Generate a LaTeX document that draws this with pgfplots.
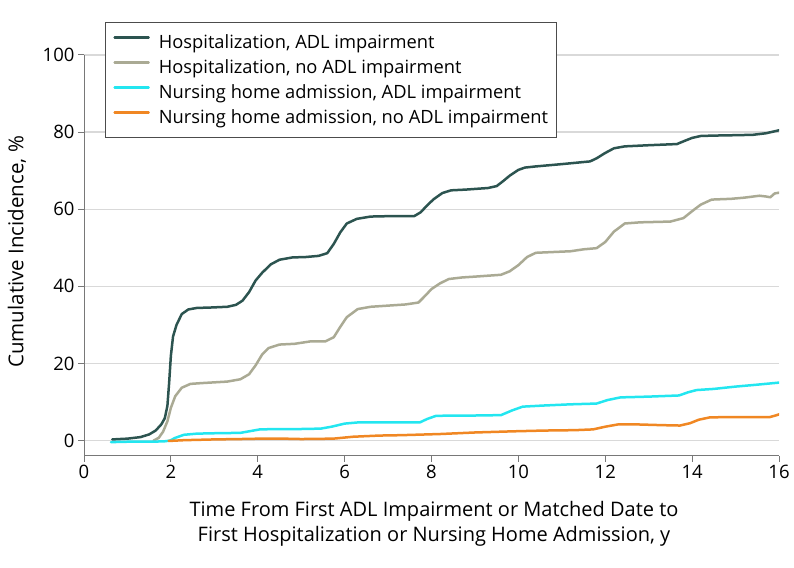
\documentclass[border=0pt]{standalone}
\usepackage{fontspec}
\setmainfont{Open Sans}
\usepackage{pgfplots}
\pgfplotsset{compat=1.18}

\definecolor{hadl}{RGB}{44,84,80}
\definecolor{hnoadl}{RGB}{170,170,148}
\definecolor{nhadl}{RGB}{35,230,240}
\definecolor{nhnoadl}{RGB}{240,135,35}
\definecolor{gridgray}{RGB}{217,217,217}
\definecolor{axisgray}{RGB}{120,120,120}

\begin{document}
\begin{tikzpicture}
\useasboundingbox (0,0) rectangle (794pt,567pt);
\begin{axis}[
    at={(84pt,111pt)}, anchor=south west,
    scale only axis,
    width=695pt, height=401pt,
    xmin=0, xmax=16, ymin=-4, ymax=100,
    xtick={0,2,...,16}, ytick={0,20,...,100},
    axis x line*=bottom, axis y line*=left,
    axis line style={axisgray, line width=1pt},
    tick style={axisgray, line width=1pt},
    tick align=outside, major tick length=6pt,
    ymajorgrids, grid style={gridgray, line width=1.4pt},
    /pgf/number format/assume math mode=true,
    tick label style={font=\fontsize{18.5}{20}\selectfont},
    xlabel={Time From First ADL Impairment or Matched Date to\\First Hospitalization or Nursing Home Admission, y},
    every axis x label/.style={at={(axis description cs:0.5036,-0.1696)}, anchor=center,
        font=\fontsize{20}{25}\selectfont, align=center},
    ylabel={Cumulative Incidence, \%},
    every axis y label/.style={at={(axis description cs:-0.0964,0.509)}, rotate=90, anchor=center,
        font=\fontsize{20.5}{24}\selectfont},
    legend style={at={(axis description cs:0.0302,1.0823)}, anchor=north west,
        draw=black!70, line width=0.8pt, fill=white,
        font=\fontsize{18.3}{20}\selectfont,
        inner xsep=8pt, inner ysep=9pt, row sep=3pt,
        nodes={inner sep=0pt, text height=17pt, text depth=5pt},
        /tikz/every odd column/.style={column sep=9pt}},
    legend cell align=left,
    legend image code/.code={\draw[#1, line width=2.5pt] (0pt,5pt) -- (34pt,5pt);},
    every axis plot/.append style={line width=2.5pt, line join=round, line cap=round},
]
\addplot[hadl] coordinates {
(0.65,0.3) (1.0,0.5) (1.3,0.9) (1.5,1.6) (1.65,2.6) (1.78,4.2) (1.86,5.8) (1.92,9)
(1.96,15) (2.0,22) (2.05,27) (2.13,30) (2.25,32.8) (2.4,34) (2.6,34.4) (2.9,34.5)
(3.3,34.7) (3.5,35.2) (3.65,36.3) (3.8,38.5) (3.95,41.5) (4.1,43.5) (4.3,45.7)
(4.5,46.9) (4.8,47.5) (5.1,47.6) (5.4,47.9) (5.6,48.6) (5.75,51) (5.9,54) (6.05,56.3)
(6.28,57.5) (6.6,58.1) (7.0,58.2) (7.6,58.2) (7.75,59.2) (7.9,61) (8.05,62.6)
(8.25,64.2) (8.45,64.9) (8.8,65.1) (9.3,65.5) (9.5,66) (9.65,67.3) (9.8,68.7)
(10.0,70.2) (10.15,70.8) (10.4,71.1) (11.0,71.7) (11.65,72.4) (11.8,73.2) (12.0,74.6)
(12.2,75.8) (12.45,76.3) (13.0,76.6) (13.65,76.9) (13.8,77.6) (14.0,78.5) (14.2,79)
(14.5,79.1) (15.0,79.2) (15.4,79.3) (15.7,79.7) (16.05,80.6)
};
\addlegendentry{Hospitalization, ADL impairment}
\addplot[hnoadl] coordinates {
(1.6,0) (1.72,0.7) (1.82,2.3) (1.92,5) (2.0,8.5) (2.1,11.5) (2.25,13.7) (2.45,14.7)
(2.7,14.9) (3.0,15.1) (3.3,15.3) (3.6,15.9) (3.8,17.2) (3.95,19.5) (4.1,22.3)
(4.25,24) (4.5,24.9) (4.85,25.1) (5.2,25.7) (5.55,25.7) (5.75,26.8) (5.9,29.5)
(6.05,32) (6.3,34.1) (6.6,34.7) (7.0,35) (7.4,35.3) (7.7,35.8) (7.85,37.5) (8.0,39.3)
(8.2,40.8) (8.4,41.9) (8.7,42.3) (9.1,42.6) (9.6,43) (9.8,43.9) (10.0,45.5)
(10.2,47.6) (10.4,48.7) (10.8,48.9) (11.2,49.1) (11.5,49.6) (11.8,49.9) (12.0,51.5)
(12.2,54.2) (12.45,56.3) (12.8,56.6) (13.5,56.8) (13.8,57.7) (14.0,59.5) (14.2,61.2)
(14.45,62.5) (14.9,62.7) (15.2,63) (15.55,63.5) (15.7,63.3) (15.8,63.1) (15.9,64.1)
(16.06,64.4)
};
\addlegendentry{Hospitalization, no ADL impairment}
\addplot[nhadl] coordinates {
(0.62,-0.4) (1.0,-0.3) (1.5,-0.3) (1.85,-0.2) (1.98,0) (2.1,0.7) (2.3,1.5) (2.6,1.8)
(3.0,1.9) (3.6,2.0) (3.8,2.4) (4.05,2.9) (4.5,3) (5.0,3) (5.45,3.1) (5.7,3.6)
(6.0,4.4) (6.3,4.7) (7.0,4.7) (7.73,4.7) (7.9,5.6) (8.1,6.4) (8.5,6.5) (9.0,6.5)
(9.6,6.6) (9.85,7.8) (10.1,8.8) (10.6,9.1) (11.2,9.4) (11.8,9.6) (12.05,10.5)
(12.35,11.2) (13.0,11.4) (13.7,11.7) (13.9,12.5) (14.1,13.1) (14.5,13.4) (15.0,14)
(15.5,14.5) (16.06,15.1)
};
\addlegendentry{Nursing home admission, ADL impairment}
\addplot[nhnoadl] coordinates {
(1.95,-0.1) (2.3,0.1) (3.0,0.3) (3.6,0.4) (4.05,0.5) (4.6,0.5) (5.0,0.4) (5.74,0.5)
(6.2,1.0) (6.8,1.3) (7.3,1.4) (8.2,1.7) (9.0,2.1) (9.88,2.4) (10.6,2.6) (11.3,2.7)
(11.72,2.9) (12.0,3.6) (12.3,4.2) (12.7,4.2) (13.3,4.0) (13.72,3.9) (13.95,4.5)
(14.15,5.4) (14.4,6.0) (14.8,6.1) (15.3,6.1) (15.79,6.1) (15.95,6.6) (16.1,7.2)
};
\addlegendentry{Nursing home admission, no ADL impairment}
\end{axis}
\end{tikzpicture}
\end{document}
